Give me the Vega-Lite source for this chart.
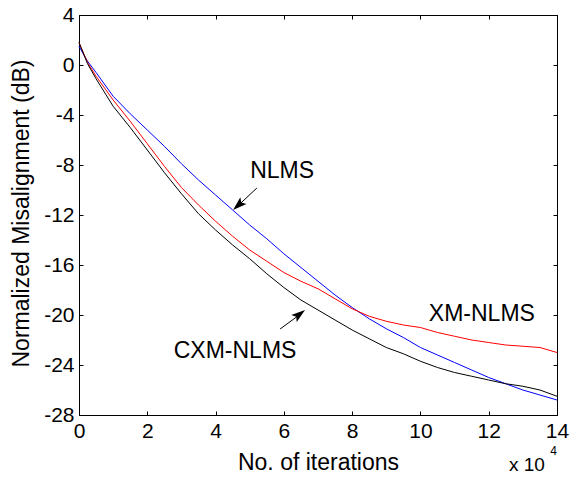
{
  "$schema": "https://vega.github.io/schema/vega-lite/v6.json",
  "width": 478,
  "height": 400,
  "autosize": "none",
  "padding": {"left": 79, "top": 15, "right": 14, "bottom": 64},
  "background": "white",
  "config": {
    "view": {"stroke": "black", "strokeWidth": 1},
    "font": "Liberation Sans",
    "axis": {
      "grid": false,
      "domainColor": "black",
      "tickColor": "black",
      "labelColor": "black",
      "titleColor": "black",
      "labelFont": "Liberation Sans",
      "titleFont": "Liberation Sans",
      "labelFontSize": 21,
      "titleFontSize": 23,
      "titleFontWeight": "normal",
      "tickSize": -4,
      "labelPadding": 9,
      "labelFlush": false,
      "labelExpr": "'' + datum.value"
    }
  },
  "datasets": {
    "lines": [
      {"series": "NLMS", "x": 0, "y": 1.5},
      {"series": "NLMS", "x": 0.25, "y": 0.3},
      {"series": "NLMS", "x": 0.5, "y": -0.6},
      {"series": "NLMS", "x": 1, "y": -2.5},
      {"series": "NLMS", "x": 1.5, "y": -3.9},
      {"series": "NLMS", "x": 2, "y": -5.2},
      {"series": "NLMS", "x": 2.5, "y": -6.5},
      {"series": "NLMS", "x": 3, "y": -7.9},
      {"series": "NLMS", "x": 3.5, "y": -9.2},
      {"series": "NLMS", "x": 4, "y": -10.4},
      {"series": "NLMS", "x": 4.5, "y": -11.6},
      {"series": "NLMS", "x": 5, "y": -12.8},
      {"series": "NLMS", "x": 5.5, "y": -13.9},
      {"series": "NLMS", "x": 6, "y": -15.1},
      {"series": "NLMS", "x": 6.5, "y": -16.2},
      {"series": "NLMS", "x": 7, "y": -17.3},
      {"series": "NLMS", "x": 7.5, "y": -18.4},
      {"series": "NLMS", "x": 8, "y": -19.4},
      {"series": "NLMS", "x": 8.5, "y": -20.3},
      {"series": "NLMS", "x": 9, "y": -21.1},
      {"series": "NLMS", "x": 9.5, "y": -21.8},
      {"series": "NLMS", "x": 10, "y": -22.6},
      {"series": "NLMS", "x": 10.5, "y": -23.2},
      {"series": "NLMS", "x": 11, "y": -23.8},
      {"series": "NLMS", "x": 11.5, "y": -24.4},
      {"series": "NLMS", "x": 12, "y": -25.0},
      {"series": "NLMS", "x": 12.5, "y": -25.5},
      {"series": "NLMS", "x": 13, "y": -26.0},
      {"series": "NLMS", "x": 13.5, "y": -26.4},
      {"series": "NLMS", "x": 14, "y": -26.8},
      {"series": "XM-NLMS", "x": 0, "y": 1.8},
      {"series": "XM-NLMS", "x": 0.25, "y": 0.2},
      {"series": "XM-NLMS", "x": 0.5, "y": -0.9},
      {"series": "XM-NLMS", "x": 1, "y": -2.8},
      {"series": "XM-NLMS", "x": 1.5, "y": -4.5},
      {"series": "XM-NLMS", "x": 2, "y": -6.3},
      {"series": "XM-NLMS", "x": 2.5, "y": -8.1},
      {"series": "XM-NLMS", "x": 3, "y": -9.8},
      {"series": "XM-NLMS", "x": 3.5, "y": -11.2},
      {"series": "XM-NLMS", "x": 4, "y": -12.5},
      {"series": "XM-NLMS", "x": 4.5, "y": -13.7},
      {"series": "XM-NLMS", "x": 5, "y": -14.8},
      {"series": "XM-NLMS", "x": 5.5, "y": -15.7},
      {"series": "XM-NLMS", "x": 6, "y": -16.6},
      {"series": "XM-NLMS", "x": 6.5, "y": -17.3},
      {"series": "XM-NLMS", "x": 7, "y": -17.9},
      {"series": "XM-NLMS", "x": 7.5, "y": -18.7},
      {"series": "XM-NLMS", "x": 8, "y": -19.5},
      {"series": "XM-NLMS", "x": 8.5, "y": -20.1},
      {"series": "XM-NLMS", "x": 9, "y": -20.5},
      {"series": "XM-NLMS", "x": 9.5, "y": -20.8},
      {"series": "XM-NLMS", "x": 10, "y": -21.0},
      {"series": "XM-NLMS", "x": 10.5, "y": -21.4},
      {"series": "XM-NLMS", "x": 11, "y": -21.7},
      {"series": "XM-NLMS", "x": 11.5, "y": -22.0},
      {"series": "XM-NLMS", "x": 12, "y": -22.2},
      {"series": "XM-NLMS", "x": 12.5, "y": -22.4},
      {"series": "XM-NLMS", "x": 13, "y": -22.5},
      {"series": "XM-NLMS", "x": 13.5, "y": -22.6},
      {"series": "XM-NLMS", "x": 14, "y": -23.0},
      {"series": "CXM-NLMS", "x": 0, "y": 1.8},
      {"series": "CXM-NLMS", "x": 0.25, "y": 0.1},
      {"series": "CXM-NLMS", "x": 0.5, "y": -1.1},
      {"series": "CXM-NLMS", "x": 1, "y": -3.3},
      {"series": "CXM-NLMS", "x": 1.5, "y": -5.0},
      {"series": "CXM-NLMS", "x": 2, "y": -6.8},
      {"series": "CXM-NLMS", "x": 2.5, "y": -8.6},
      {"series": "CXM-NLMS", "x": 3, "y": -10.3},
      {"series": "CXM-NLMS", "x": 3.5, "y": -11.9},
      {"series": "CXM-NLMS", "x": 4, "y": -13.2},
      {"series": "CXM-NLMS", "x": 4.5, "y": -14.4},
      {"series": "CXM-NLMS", "x": 5, "y": -15.5},
      {"series": "CXM-NLMS", "x": 5.5, "y": -16.7},
      {"series": "CXM-NLMS", "x": 6, "y": -17.8},
      {"series": "CXM-NLMS", "x": 6.5, "y": -18.8},
      {"series": "CXM-NLMS", "x": 7, "y": -19.6},
      {"series": "CXM-NLMS", "x": 7.5, "y": -20.4},
      {"series": "CXM-NLMS", "x": 8, "y": -21.2},
      {"series": "CXM-NLMS", "x": 8.5, "y": -21.9},
      {"series": "CXM-NLMS", "x": 9, "y": -22.6},
      {"series": "CXM-NLMS", "x": 9.5, "y": -23.1},
      {"series": "CXM-NLMS", "x": 10, "y": -23.7},
      {"series": "CXM-NLMS", "x": 10.5, "y": -24.2},
      {"series": "CXM-NLMS", "x": 11, "y": -24.6},
      {"series": "CXM-NLMS", "x": 11.5, "y": -24.9},
      {"series": "CXM-NLMS", "x": 12, "y": -25.2},
      {"series": "CXM-NLMS", "x": 12.5, "y": -25.5},
      {"series": "CXM-NLMS", "x": 13, "y": -25.7},
      {"series": "CXM-NLMS", "x": 13.5, "y": -26.0},
      {"series": "CXM-NLMS", "x": 14, "y": -26.5}
    ],
    "labels": [
      {"label": "NLMS", "x": 5.95, "y": -8.5},
      {"label": "XM-NLMS", "x": 11.8, "y": -19.9},
      {"label": "CXM-NLMS", "x": 4.57, "y": -22.9}
    ],
    "arrows": [
      {"name": "NLMS", "x": 5.21, "y": -9.84, "x2": 4.6, "y2": -11.4, "hx": 4.69, "hy": -11.16, "angle": 227.5},
      {"name": "CXM-NLMS", "x": 5.89, "y": -21.12, "x2": 6.5, "y2": -19.9, "hx": 6.43, "hy": -20.0, "angle": 52.8}
    ],
    "exponent": [
      {"text": "x 10", "x": 13.12, "y": -32.0, "size": 19},
      {"text": "4", "x": 13.9, "y": -30.9, "size": 12}
    ]
  },
  "resolve": {"axis": {"x": "independent", "y": "independent"}},
  "layer": [
    {
      "data": {"name": "lines"},
      "mark": {"type": "line", "strokeWidth": 1, "interpolate": "linear"},
      "encoding": {
        "x": {
          "field": "x", "type": "quantitative",
          "scale": {"domain": [0, 14], "nice": false, "zero": false},
          "axis": {"orient": "bottom", "values": [0, 2, 4, 6, 8, 10, 12, 14], "title": "No. of iterations", "titleBaseline": "middle", "titleY": 47}
        },
        "y": {
          "field": "y", "type": "quantitative",
          "scale": {"domain": [-28, 4], "nice": false, "zero": false},
          "axis": {"orient": "left", "values": [-28, -24, -20, -16, -12, -8, -4, 0, 4], "title": "Normalized Misalignment (dB)", "titleBaseline": "middle", "titleX": -58, "titleY": 198, "titleAngle": -90}
        },
        "color": {
          "field": "series", "type": "nominal",
          "scale": {"domain": ["NLMS", "XM-NLMS", "CXM-NLMS"], "range": ["#0000FF", "#FF0000", "#000000"]},
          "legend": null
        }
      }
    },
    {
      "data": {"name": "labels"},
      "mark": {"type": "text", "fontSize": 23, "font": "Liberation Sans", "align": "center", "baseline": "middle", "color": "black"},
      "encoding": {
        "x": {"field": "x", "type": "quantitative", "axis": {"orient": "top", "values": [0, 2, 4, 6, 8, 10, 12, 14], "labels": false, "title": null}},
        "y": {"field": "y", "type": "quantitative", "axis": {"orient": "right", "values": [-28, -24, -20, -16, -12, -8, -4, 0, 4], "labels": false, "title": null}},
        "text": {"field": "label"}
      }
    },
    {
      "data": {"name": "arrows"},
      "mark": {"type": "rule", "color": "black", "strokeWidth": 1},
      "encoding": {
        "x": {"field": "x", "type": "quantitative", "axis": null},
        "y": {"field": "y", "type": "quantitative", "axis": null},
        "x2": {"field": "x2"},
        "y2": {"field": "y2"}
      }
    },
    {
      "data": {"name": "arrows"},
      "mark": {"type": "point", "filled": true, "color": "black", "opacity": 1, "shape": "M0,-1L0.55,0.7L0,0.35L-0.55,0.7Z", "size": 270},
      "encoding": {
        "x": {"field": "hx", "type": "quantitative", "axis": null},
        "y": {"field": "hy", "type": "quantitative", "axis": null},
        "angle": {"field": "angle", "type": "quantitative", "scale": null}
      }
    },
    {
      "data": {"name": "exponent"},
      "mark": {"type": "text", "font": "Liberation Sans", "align": "center", "baseline": "middle", "color": "black"},
      "encoding": {
        "x": {"field": "x", "type": "quantitative", "axis": null},
        "y": {"field": "y", "type": "quantitative", "axis": null},
        "text": {"field": "text"},
        "size": {"field": "size", "type": "quantitative", "scale": null}
      }
    }
  ]
}
